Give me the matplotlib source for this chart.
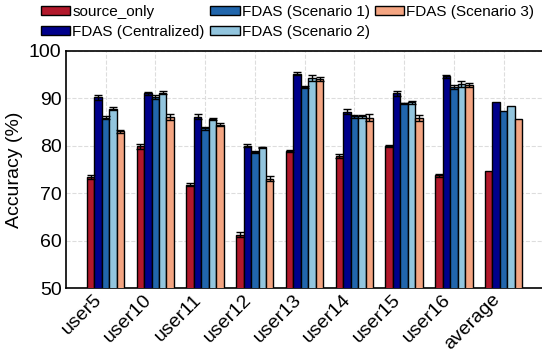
import numpy as np
import matplotlib
matplotlib.use("Agg")
import matplotlib.pyplot as plt

plt.rcParams['font.family'] = ['Liberation Sans', 'DejaVu Sans']

groups = ['user5', 'user10', 'user11', 'user12', 'user13', 'user14', 'user15', 'user16', 'average']
methods = ['source_only', 'FDAS (Centralized)', 'FDAS (Scenario 1)', 'FDAS (Scenario 2)', 'FDAS (Scenario 3)']
colors = ['#b2182b', '#00008b', '#2166ac', '#92c5de', '#f4a582']

source_only = [73.5, 79.9, 71.8, 61.3, 78.8, 77.9, 80.0, 73.8, 74.6]
centralized = [90.2, 91.0, 86.1, 80.0, 95.2, 87.2, 91.0, 94.6, 89.1]
scenario1 = [85.9, 90.2, 83.7, 78.6, 92.4, 86.2, 88.9, 92.3, 87.3]
scenario2 = [87.8, 91.2, 85.6, 79.7, 94.2, 86.2, 89.1, 93.0, 88.3]
scenario3 = [83.0, 86.1, 84.4, 73.1, 94.1, 85.9, 85.8, 92.8, 85.6]

err_source = [0.4, 0.5, 0.3, 0.5, 0.2, 0.4, 0.2, 0.3, 0]
err_central = [0.5, 0.4, 0.5, 0.3, 0.3, 0.5, 0.6, 0.3, 0]
err_sc1 = [0.3, 0.4, 0.3, 0.2, 0.2, 0.3, 0.1, 0.4, 0]
err_sc2 = [0.3, 0.3, 0.2, 0.1, 0.6, 0.3, 0.3, 0.7, 0]
err_sc3 = [0.4, 0.6, 0.3, 0.6, 0.4, 0.7, 0.7, 0.5, 0]

values = [source_only, centralized, scenario1, scenario2, scenario3]
errors = [err_source, err_central, err_sc1, err_sc2, err_sc3]

fig = plt.figure(figsize=(5.42, 3.54), dpi=100)
ax = fig.add_axes([0.1212, 0.1856, 0.8788, 0.6712])

x = np.arange(len(groups))
w = 0.15
for i in range(len(methods)):
    err = errors[i]
    ax.bar(x + (i - 2) * w, values[i], w, color=colors[i], edgecolor='black',
           linewidth=1, label=methods[i], zorder=3)
    # average group has no error bars
    ax.errorbar(x[:-1] + (i - 2) * w, values[i][:-1], yerr=err[:-1], fmt='none',
                ecolor='black', elinewidth=1, capsize=3, capthick=1, zorder=4)

ax.set_ylim(50, 100)
ax.set_xlim(-0.8, 8.77)
ax.set_yticks([50, 60, 70, 80, 90, 100])
ax.set_xticks(x)
ax.set_xticklabels(groups, rotation=45, ha='right', fontsize=14)
ax.tick_params(axis='y', labelsize=14, length=0, pad=3)
ax.tick_params(axis='x', length=0, pad=2)
ax.set_ylabel('Accuracy (%)', fontsize=14)
ax.grid(True, color='#dddddd', linestyle='--', linewidth=0.8, zorder=0)
ax.spines['right'].set_visible(False)
for s in ['left', 'bottom', 'top']:
    ax.spines[s].set_linewidth(1.2)

fig.legend(loc='upper left', bbox_to_anchor=(0.072, 0.99), ncol=3, frameon=False,
           fontsize=11, handlelength=1.95, handleheight=0.55, handletextpad=0.13,
           columnspacing=0.33, labelspacing=0.37, borderpad=0.1, borderaxespad=0)

fig.savefig('out.png', dpi=100)
